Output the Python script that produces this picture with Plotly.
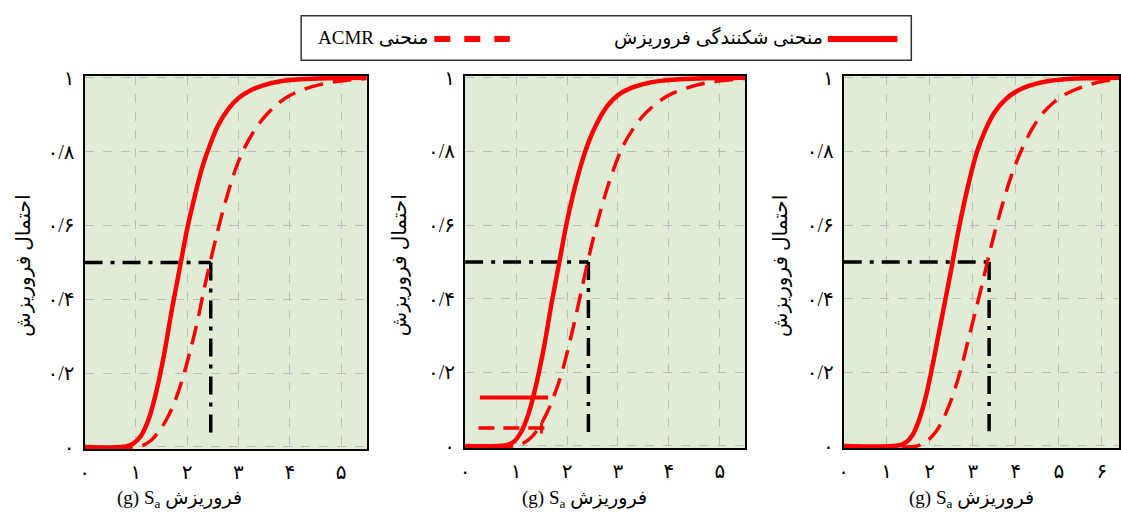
import plotly.graph_objects as go

# ---------------- data ----------------
# Panel 1
p1_solid_x = [0, 0.8, 0.95, 1.1, 1.25, 1.4, 1.55, 1.7, 1.85, 2.0, 2.15, 2.3, 2.45, 2.6, 2.8, 3.0, 3.25, 3.5, 3.8, 4.2, 4.7, 5.5]
p1_solid_y = [0, 0.001, 0.009, 0.03, 0.075, 0.15, 0.25, 0.37, 0.48, 0.59, 0.68, 0.76, 0.82, 0.87, 0.915, 0.945, 0.967, 0.98, 0.99, 0.996, 0.999, 1.0]
p1_dash_x = [0, 1.0, 1.15, 1.3, 1.45, 1.6, 1.75, 1.9, 2.05, 2.2, 2.35, 2.5, 2.65, 2.8, 2.95, 3.1, 3.3, 3.5, 3.75, 4.0, 4.3, 4.7, 5.1, 5.5]
p1_dash_y = [0, 0, 0.005, 0.018, 0.042, 0.075, 0.12, 0.18, 0.255, 0.34, 0.44, 0.53, 0.615, 0.69, 0.755, 0.805, 0.855, 0.893, 0.928, 0.952, 0.97, 0.985, 0.993, 0.998]
# Panel 2
p2_solid_x = [0, 0.8, 0.95, 1.1, 1.25, 1.4, 1.55, 1.7, 1.85, 2.0, 2.15, 2.3, 2.45, 2.6, 2.8, 3.0, 3.25, 3.5, 3.8, 4.2, 4.7, 5.5]
p2_solid_y = [0, 0.002, 0.011, 0.038, 0.09, 0.17, 0.27, 0.39, 0.5, 0.61, 0.7, 0.775, 0.835, 0.88, 0.925, 0.953, 0.972, 0.983, 0.991, 0.996, 0.999, 1.0]
p2_dash_x = [0, 1.0, 1.15, 1.3, 1.45, 1.6, 1.75, 1.9, 2.05, 2.2, 2.35, 2.5, 2.65, 2.8, 2.95, 3.1, 3.3, 3.5, 3.75, 4.0, 4.3, 4.7, 5.1, 5.5]
p2_dash_y = [0, 0.001, 0.008, 0.024, 0.05, 0.088, 0.138, 0.2, 0.28, 0.37, 0.465, 0.555, 0.635, 0.705, 0.765, 0.815, 0.862, 0.898, 0.93, 0.953, 0.97, 0.985, 0.993, 0.998]
# Panel 3
p3_solid_x = [0, 1.3, 1.45, 1.6, 1.75, 1.9, 2.05, 2.2, 2.35, 2.5, 2.65, 2.8, 2.95, 3.1, 3.3, 3.5, 3.75, 4.0, 4.3, 4.7, 5.2, 5.8, 6.4]
p3_solid_y = [0, 0.002, 0.01, 0.03, 0.07, 0.13, 0.21, 0.3, 0.39, 0.48, 0.575, 0.66, 0.735, 0.8, 0.86, 0.905, 0.94, 0.962, 0.978, 0.99, 0.997, 0.999, 1.0]
p3_dash_x = [0, 1.7, 1.85, 2.0, 2.15, 2.3, 2.45, 2.6, 2.75, 2.9, 3.05, 3.2, 3.35, 3.5, 3.7, 3.9, 4.1, 4.35, 4.6, 4.9, 5.2, 5.6, 6.0, 6.4]
p3_dash_y = [0, 0, 0.008, 0.02, 0.04, 0.07, 0.11, 0.16, 0.22, 0.29, 0.36, 0.43, 0.505, 0.575, 0.66, 0.735, 0.795, 0.855, 0.9, 0.935, 0.958, 0.977, 0.99, 0.996]

# 50% level and ACMR median for each panel
ref_prob = 0.5
acmr_median = [2.46, 2.42, 3.38]
vline_bottom = [0.02, 0.02, 0.04]
x_max = [5.5, 5.5, 6.4]

# Stray legend-sample lines inside panel 2
p2_sample_solid_x = [0.29, 1.63]
p2_sample_solid_y = [0.132, 0.132]
p2_sample_dash_x = [0.26, 1.6]
p2_sample_dash_y = [0.049, 0.049]
p2_sample_tick_x = [1.5, 1.5]
p2_sample_tick_y = [0.034, 0.064]

x_tickvals = [0, 1, 2, 3, 4, 5, 6]
x_ticktext = ["۰", "۱", "۲", "۳", "۴", "۵", "۶"]
y_tickvals = [0, 0.2, 0.4, 0.6, 0.8, 1.0]
y_ticktext = ["۰", "۰/۲", "۰/۴", "۰/۶", "۰/۸", "۱"]

legend_solid = "منحنی شکنندگی فروریزش"
legend_dash = "ACMR منحنی"
y_title = "احتمال فروریزش"
x_title = "(g) S<sub>a</sub> فروریزش"

# ---------------- layout geometry (pixels) ----------------
W, H = 1121, 518
panels_px = [(80, 364, 69, 456), (463, 745, 69, 455), (844, 1121, 69, 455)]
x_title_px = [176, 583, 973]
y_title_px = [19, 397, 781]

RED = "#ff0000"
FONT = "Liberation Serif, DejaVu Sans"

def px(x):
    return x / W

def py(y):
    return 1 - y / H

fig = go.Figure()

solids = [(p1_solid_x, p1_solid_y), (p2_solid_x, p2_solid_y), (p3_solid_x, p3_solid_y)]
dashes = [(p1_dash_x, p1_dash_y), (p2_dash_x, p2_dash_y), (p3_dash_x, p3_dash_y)]
DASHDOT = "18px,8px,4px,8px"

for i in range(3):
    xa = "x" if i == 0 else f"x{i+1}"
    ya = "y" if i == 0 else f"y{i+1}"
    fig.add_trace(go.Scatter(x=[0, acmr_median[i]], y=[ref_prob, ref_prob], mode="lines",
                             line=dict(color="black", width=3.5, dash=DASHDOT),
                             xaxis=xa, yaxis=ya, showlegend=False, hoverinfo="skip"))
    fig.add_trace(go.Scatter(x=[acmr_median[i], acmr_median[i]], y=[ref_prob, vline_bottom[i]], mode="lines",
                             line=dict(color="black", width=3.5, dash=DASHDOT),
                             xaxis=xa, yaxis=ya, showlegend=False, hoverinfo="skip"))
    fig.add_trace(go.Scatter(x=dashes[i][0], y=dashes[i][1], mode="lines",
                             line=dict(color=RED, width=3.5, dash="19px,10px", shape="spline", smoothing=1.0),
                             xaxis=xa, yaxis=ya, showlegend=False))
    fig.add_trace(go.Scatter(x=solids[i][0], y=solids[i][1], mode="lines",
                             line=dict(color=RED, width=4.5, shape="spline", smoothing=1.0),
                             xaxis=xa, yaxis=ya, showlegend=False))

# stray sample lines in panel 2
fig.add_trace(go.Scatter(x=p2_sample_solid_x, y=p2_sample_solid_y, mode="lines",
                         line=dict(color=RED, width=4), xaxis="x2", yaxis="y2", showlegend=False))
fig.add_trace(go.Scatter(x=p2_sample_dash_x, y=p2_sample_dash_y, mode="lines",
                         line=dict(color=RED, width=3.5, dash="16px,9px"), xaxis="x2", yaxis="y2", showlegend=False))
fig.add_trace(go.Scatter(x=p2_sample_tick_x, y=p2_sample_tick_y, mode="lines",
                         line=dict(color=RED, width=3), xaxis="x2", yaxis="y2", showlegend=False))

layout = dict(width=W, height=H, margin=dict(l=0, r=0, t=0, b=0),
              paper_bgcolor="white", plot_bgcolor="#e0ecd6", showlegend=False)

for i, (l, r, t, b) in enumerate(panels_px):
    sx = "" if i == 0 else str(i + 1)
    n = sum(1 for v in x_tickvals if v <= x_max[i])
    layout["xaxis" + sx] = dict(
        domain=[px(l), px(r)], range=[0, x_max[i]], anchor="y" + sx,
        tickvals=x_tickvals[:n], ticktext=x_ticktext[:n], ticks="", ticklabelstandoff=4,
        showgrid=True, gridcolor="#bdbdbd", griddash="dash", gridwidth=1, zeroline=False,
        showline=True, linecolor="black", linewidth=2, mirror=True,
        tickfont=dict(family=FONT, size=20, color="black"))
    layout["yaxis" + sx] = dict(
        domain=[py(b), py(t)], range=[-0.006, 1.006], anchor="x" + sx,
        tickvals=y_tickvals, ticktext=y_ticktext, ticks="", ticklabelstandoff=4,
        showgrid=True, gridcolor="#bdbdbd", griddash="dash", gridwidth=1, zeroline=False,
        showline=True, linecolor="black", linewidth=2, mirror=True,
        tickfont=dict(family=FONT, size=20, color="black"))

fig.update_layout(**layout)

ann = []
shapes = []
for i in range(3):
    ann.append(dict(x=px(x_title_px[i]), y=py(508), xref="paper", yref="paper", text=x_title,
                    showarrow=False, xanchor="center", yanchor="middle",
                    font=dict(family=FONT, size=19, color="black")))
    ann.append(dict(x=px(y_title_px[i]), y=py(266), xref="paper", yref="paper", text=y_title,
                    showarrow=False, textangle=-90, xanchor="center", yanchor="middle",
                    font=dict(family=FONT, size=20, color="black")))

# manual legend box (samples sit to the right of the Persian labels)
shapes.append(dict(type="rect", xref="paper", yref="paper", x0=px(298), x1=px(912), y0=py(53), y1=py(7),
                   line=dict(color="#333333", width=1.5), fillcolor="white", layer="above"))
shapes.append(dict(type="line", xref="paper", yref="paper", x0=px(828), x1=px(898), y0=py(31), y1=py(31),
                   line=dict(color=RED, width=6)))
shapes.append(dict(type="line", xref="paper", yref="paper", x0=px(432), x1=px(508), y0=py(31), y1=py(31),
                   line=dict(color=RED, width=6, dash="16px,14px")))
ann.append(dict(x=px(825), y=py(30), xref="paper", yref="paper", text=legend_solid, showarrow=False,
                xanchor="right", yanchor="middle", font=dict(family=FONT, size=19, color="black")))
ann.append(dict(x=px(428), y=py(30), xref="paper", yref="paper", text=legend_dash, showarrow=False,
                xanchor="right", yanchor="middle", font=dict(family=FONT, size=19, color="black")))

fig.update_layout(annotations=ann, shapes=shapes)
fig.write_html("out.html")
